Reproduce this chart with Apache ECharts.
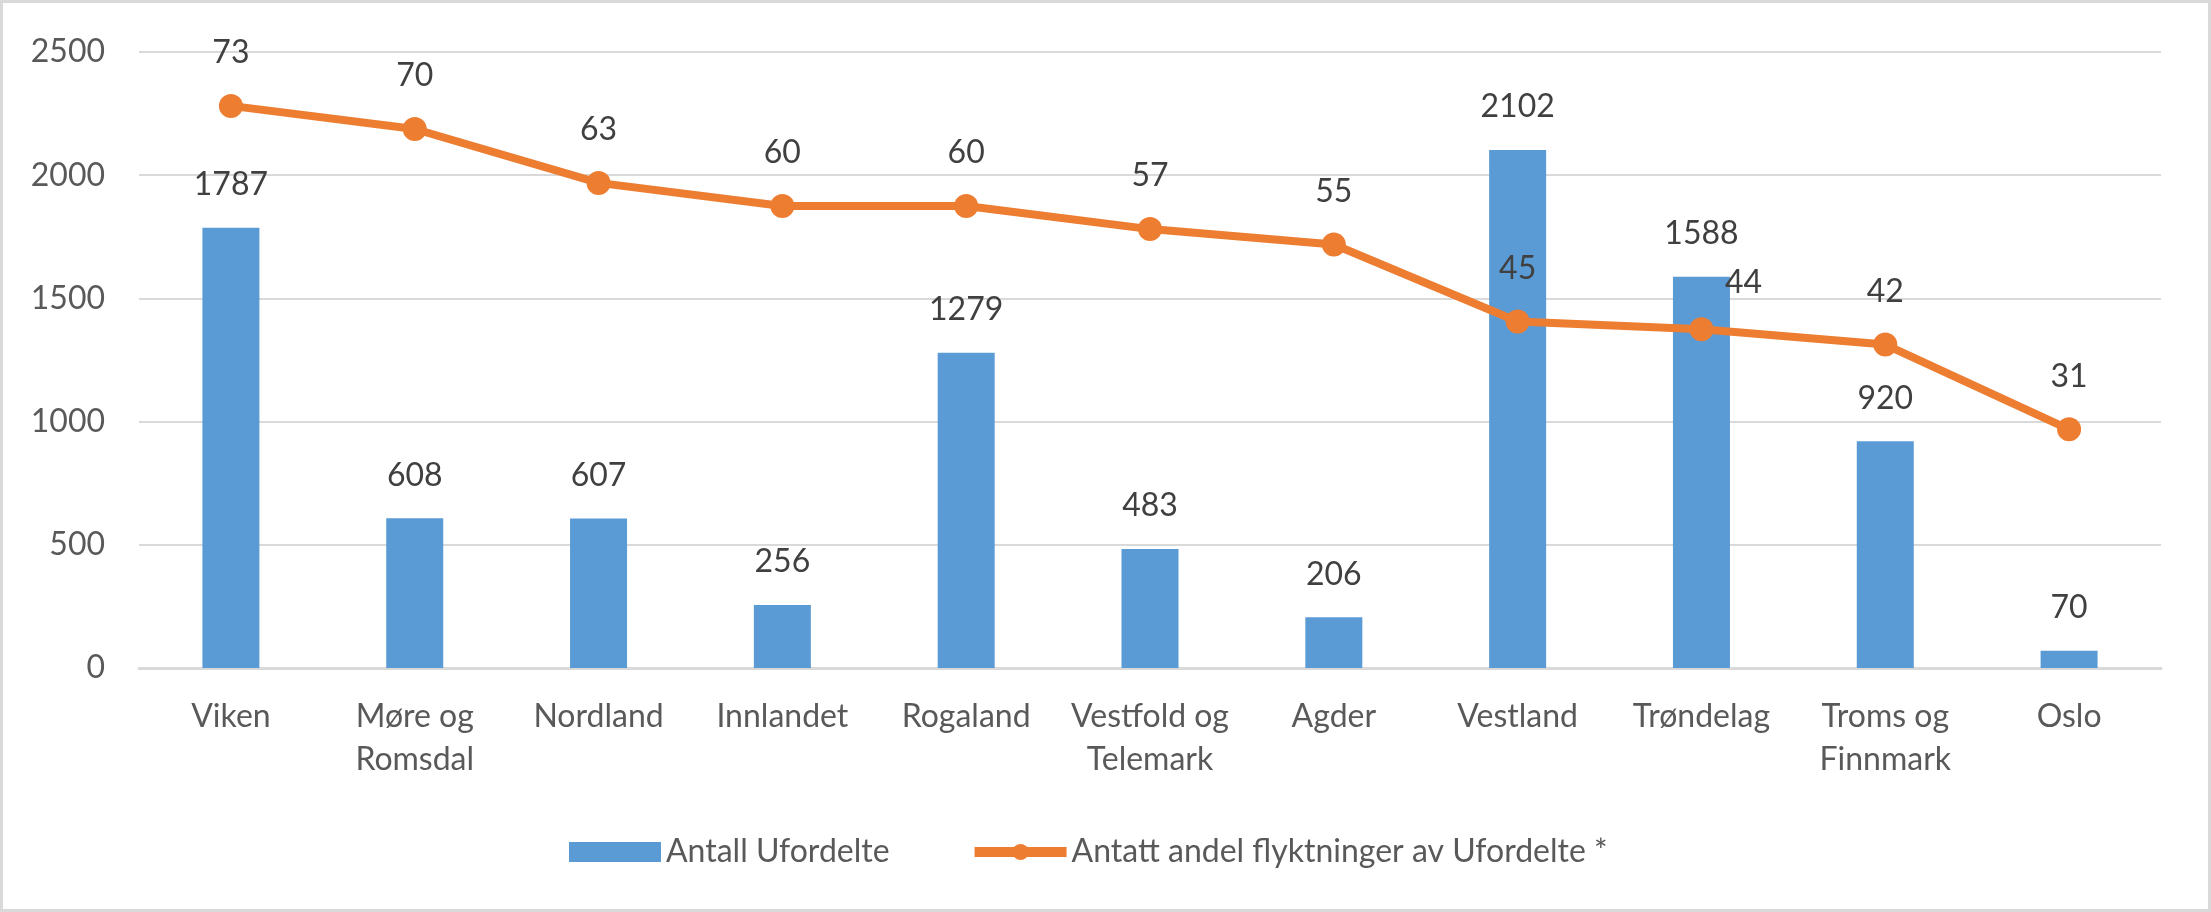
<!DOCTYPE html>
<html>
<head>
<meta charset="utf-8">
<script src="https://cdn.jsdelivr.net/npm/echarts@6/dist/echarts.min.js"></script>
<style>
html,body{margin:0;padding:0;background:#fff;}
#chart{width:2211px;height:912px;}
</style>
</head>
<body>
<div id="chart"></div>
<script>
const categories = ["Viken", "Møre og Romsdal", "Nordland", "Innlandet", "Rogaland", "Vestfold og Telemark", "Agder", "Vestland", "Trøndelag", "Troms og Finnmark", "Oslo"];
const antallUfordelte = [1787, 608, 607, 256, 1279, 483, 206, 2102, 1588, 920, 70];
const andelFlyktninger = [73, 70, 63, 60, 60, 57, 55, 45, 44, 42, 31];
const yTicks = [0, 500, 1000, 1500, 2000, 2500];

const FONT = 'Lato';
const chart = echarts.init(document.getElementById('chart'));

const lineData = andelFlyktninger.map((v, i) => {
  if (categories[i] === 'Trøndelag') {
    return { value: v, label: { offset: [42, 6] } };
  }
  return v;
});

chart.setOption({
  animation: false,
  backgroundColor: '#ffffff',
  graphic: [{
    type: 'rect',
    shape: { x: 1.5, y: 1.5, width: 2208, height: 909 },
    style: { fill: 'none', stroke: '#d9d9d9', lineWidth: 3 },
    silent: true
  }],
  grid: { left: 139, right: 50, top: 52, bottom: 244 },
  legend: {
    left: 564,
    top: 831,
    itemWidth: 92,
    itemHeight: 20,
    itemGap: 80,
    textStyle: { fontFamily: FONT, fontSize: 32, color: '#595959' },
    data: [
      { name: 'Antall Ufordelte', icon: 'rect' },
      { name: 'Antatt andel flyktninger av Ufordelte *', lineStyle: { width: 10 } }
    ]
  },
  xAxis: {
    type: 'category',
    data: categories,
    axisLine: { lineStyle: { color: '#d9d9d9', width: 3 } },
    axisTick: { show: false },
    axisLabel: {
      fontFamily: FONT,
      fontSize: 32,
      color: '#595959',
      lineHeight: 43,
      margin: 27,
      interval: 0,
      formatter: function (s) { return s.replace(' og ', ' og\n'); }
    }
  },
  yAxis: [{
    type: 'value',
    min: yTicks[0],
    max: yTicks[yTicks.length - 1],
    interval: yTicks[1] - yTicks[0],
    axisLine: { show: false },
    axisTick: { show: false },
    splitLine: { lineStyle: { color: '#d9d9d9', width: 2 } },
    axisLabel: {
      fontFamily: FONT, fontSize: 32, color: '#595959', margin: 34,
      formatter: function (v) { return String(v); }
    }
  }, {
    type: 'value',
    min: 0,
    max: 80,
    show: false,
    splitLine: { show: false }
  }],
  series: [{
    name: 'Antall Ufordelte',
    type: 'bar',
    data: antallUfordelte,
    barWidth: 57,
    itemStyle: { color: '#5B9BD5' },
    label: {
      show: true,
      position: 'top',
      distance: 24,
      fontFamily: FONT,
      fontSize: 32,
      lineHeight: 38,
      color: '#404040'
    }
  }, {
    name: 'Antatt andel flyktninger av Ufordelte *',
    type: 'line',
    yAxisIndex: 1,
    data: lineData,
    symbol: 'circle',
    symbolSize: 24,
    lineStyle: { color: '#ED7D31', width: 8 },
    itemStyle: { color: '#ED7D31' },
    label: {
      show: true,
      position: 'top',
      distance: 22,
      fontFamily: FONT,
      fontSize: 32,
      lineHeight: 38,
      color: '#404040'
    },
    z: 3
  }]
});
</script>
</body>
</html>
